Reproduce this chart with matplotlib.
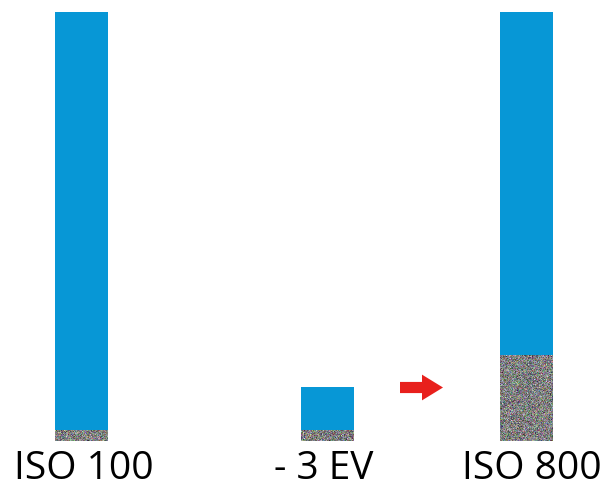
import numpy as np
import matplotlib
matplotlib.use("Agg")
from matplotlib import pyplot as plt
from matplotlib.patches import FancyArrow

# data: signal level (1 = full scale) and noise floor height
labels = ["ISO 100", "- 3 EV", "ISO 800"]
signal = [1.0, 0.125, 1.0]
noise = [0.025, 0.025, 0.2]

# layout (pixel-like x units)
xpos = [81.5, 327.5, 526.5]
label_x = [84, 324, 532]
bar_w = 53
blue = "#0797d6"

fig = plt.figure(figsize=(6.05, 4.83), dpi=100)
ax = fig.add_axes([0, 0, 1, 1])
ax.set_xlim(0, 605)
ax.set_ylim(-42 / 429, 441 / 429)
ax.axis("off")

ax.bar(xpos, signal, width=bar_w, color=blue, linewidth=0, zorder=1)

rng = np.random.default_rng(3)
for x, n in zip(xpos, noise):
    h = max(int(round(n * 429)), 1)
    gray = rng.normal(0.5, 0.09, (h, bar_w, 1))
    tex = np.clip(gray + rng.normal(0, 0.08, (h, bar_w, 3)), 0, 1)
    ax.imshow(tex, extent=[x - bar_w / 2, x + bar_w / 2, 0, n],
              aspect="auto", interpolation="bilinear", zorder=2)

for lx, lab in zip(label_x, labels):
    ax.text(lx, -38 / 429, lab, ha="center", va="baseline",
            fontsize=28, family="Open Sans", color="#000000")

arrow = FancyArrow(400, 0.1247, 43, 0, width=0.026, head_width=0.06,
                   head_length=21, length_includes_head=True,
                   color="#e8201c", linewidth=0)
ax.add_patch(arrow)

fig.savefig("out.png", dpi=100)
